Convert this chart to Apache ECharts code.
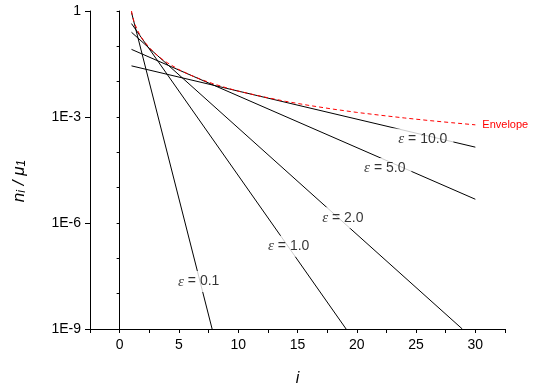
<!DOCTYPE html>
<html>
<head>
<meta charset="utf-8">
<script src="https://cdn.jsdelivr.net/npm/echarts@6/dist/echarts.min.js"></script>
<style>html,body{margin:0;padding:0;background:#fff}#c{width:539px;height:383px}</style>
</head>
<body>
<div id="c"></div>
<script>
// epsilon values and their straight lines (start / end points)
const epsNames = ['0.1', '1.0', '2.0', '5.0', '10.0'];
const lineEps01 = [[1, 0.91], [7.8, 1e-9]];
const lineEps1 = [[1, 0.44], [19.1, 1e-9]];
const lineEps2 = [[1, 0.25], [28.9, 1e-9]];
const lineEps5 = [[1, 0.082], [30, 4.7e-6]];
const lineEps10 = [[1, 0.028], [30, 1.4e-4]];
// envelope (red dashed)
const envelope = [[1, 1], [1.1, 0.67], [1.25, 0.456], [1.5, 0.286], [1.75, 0.199], [2, 0.148], [2.5, 0.092],
  [3, 0.0625], [3.5, 0.0454], [4, 0.0346], [5, 0.0219], [6, 0.0152], [7, 0.0111], [8, 0.0085], [9, 0.0067],
  [10, 0.0054], [12, 0.0038], [14, 0.00277], [16, 0.00212], [18, 0.00167], [20, 0.00135], [22, 0.00112],
  [24, 0.00094], [26, 0.0008], [28, 0.00069], [30, 0.0006]];
// label anchors (data coords)
const labelAnchors = [[6.67, 2.2e-8], [14.26, 2.2e-7], [18.82, 1.4e-6], [22.36, 3.5e-5], [25.57, 2.4e-4]];

const lines = [lineEps01, lineEps1, lineEps2, lineEps5, lineEps10];
const font = 'Liberation Sans, Arial, sans-serif';

const series = lines.map(d => ({
  type: 'line', data: d, symbol: 'none', xAxisIndex: 0, yAxisIndex: 0,
  lineStyle: {color: '#000', width: 1}, silent: true, z: 2
}));
series.push({
  type: 'line', data: envelope, symbol: 'none',
  lineStyle: {color: '#ff0000', width: 1, type: [4, 3]}, z: 3,
  endLabel: {show: true, formatter: 'Envelope', color: '#ff0000', fontSize: 11, fontFamily: font, distance: 7}
});
series.push({
  type: 'scatter', symbolSize: 0, z: 5,
  data: labelAnchors.map((p, k) => ({value: p, name: epsNames[k]})),
  label: {
    show: true, position: 'inside', backgroundColor: '#fff', padding: [3, 6],
    formatter: p => '{e|ε}{t| = ' + p.name + '}',
    rich: {
      e: {fontFamily: 'Liberation Serif, serif', fontStyle: 'italic', fontSize: 15, color: '#000'},
      t: {fontFamily: font, fontSize: 14, color: '#000'}
    }
  }
});

const chart = echarts.init(document.getElementById('c'), null, {renderer: 'canvas'});
chart.setOption({
  animation: false,
  backgroundColor: '#fff',
  grid: {left: 90, top: 11, width: 415, height: 318, containLabel: false, outerBoundsMode: 'none'},
  xAxis: {
    type: 'value', min: -2.5, max: 32.5, interval: 2.5,
    name: 'i', nameLocation: 'middle', nameGap: 42,
    nameTextStyle: {fontFamily: font, fontStyle: 'italic', fontSize: 16, color: '#000'},
    axisLine: {lineStyle: {color: '#000', width: 1}},
    axisTick: {inside: false, length: 4, lineStyle: {color: '#000'}},
    axisLabel: {
      color: '#000', fontFamily: font, fontSize: 14, margin: 9,
      formatter: v => (Math.abs(v % 5) < 1e-9 ? String(v) : '')
    },
    splitLine: {show: false}
  },
  yAxis: [{
    type: 'log', logBase: 10, min: 1e-9, max: 1, interval: 1,
    axisLine: {lineStyle: {color: '#000', width: 1}},
    axisTick: {length: 3, lineStyle: {color: '#000'}},
    axisLabel: {show: false},
    splitLine: {show: false}
  }, {
    type: 'log', logBase: 10, min: 1e-9, max: 1, interval: 3, position: 'left',
    name: '{n|n}{s|i}{n| / μ}{s|1}', nameLocation: 'middle', nameGap: 62,
    nameTextStyle: {
      padding: [0, 22, 0, 0],
      rich: {
        n: {fontFamily: font, fontStyle: 'italic', fontSize: 17, color: '#000', verticalAlign: 'bottom', lineHeight: 20},
        s: {fontFamily: font, fontStyle: 'italic', fontSize: 12, color: '#000', verticalAlign: 'bottom', lineHeight: 14}
      }
    },
    axisLine: {lineStyle: {color: '#000', width: 1}},
    axisTick: {length: 5, lineStyle: {color: '#000'}},
    axisLabel: {
      color: '#000', fontFamily: font, fontSize: 14, margin: 9,
      formatter: v => {
        const e = Math.round(Math.log10(v));
        return e === 0 ? '1' : '1E' + e;
      }
    },
    splitLine: {show: false}
  }],
  series: series
});
</script>
</body>
</html>
